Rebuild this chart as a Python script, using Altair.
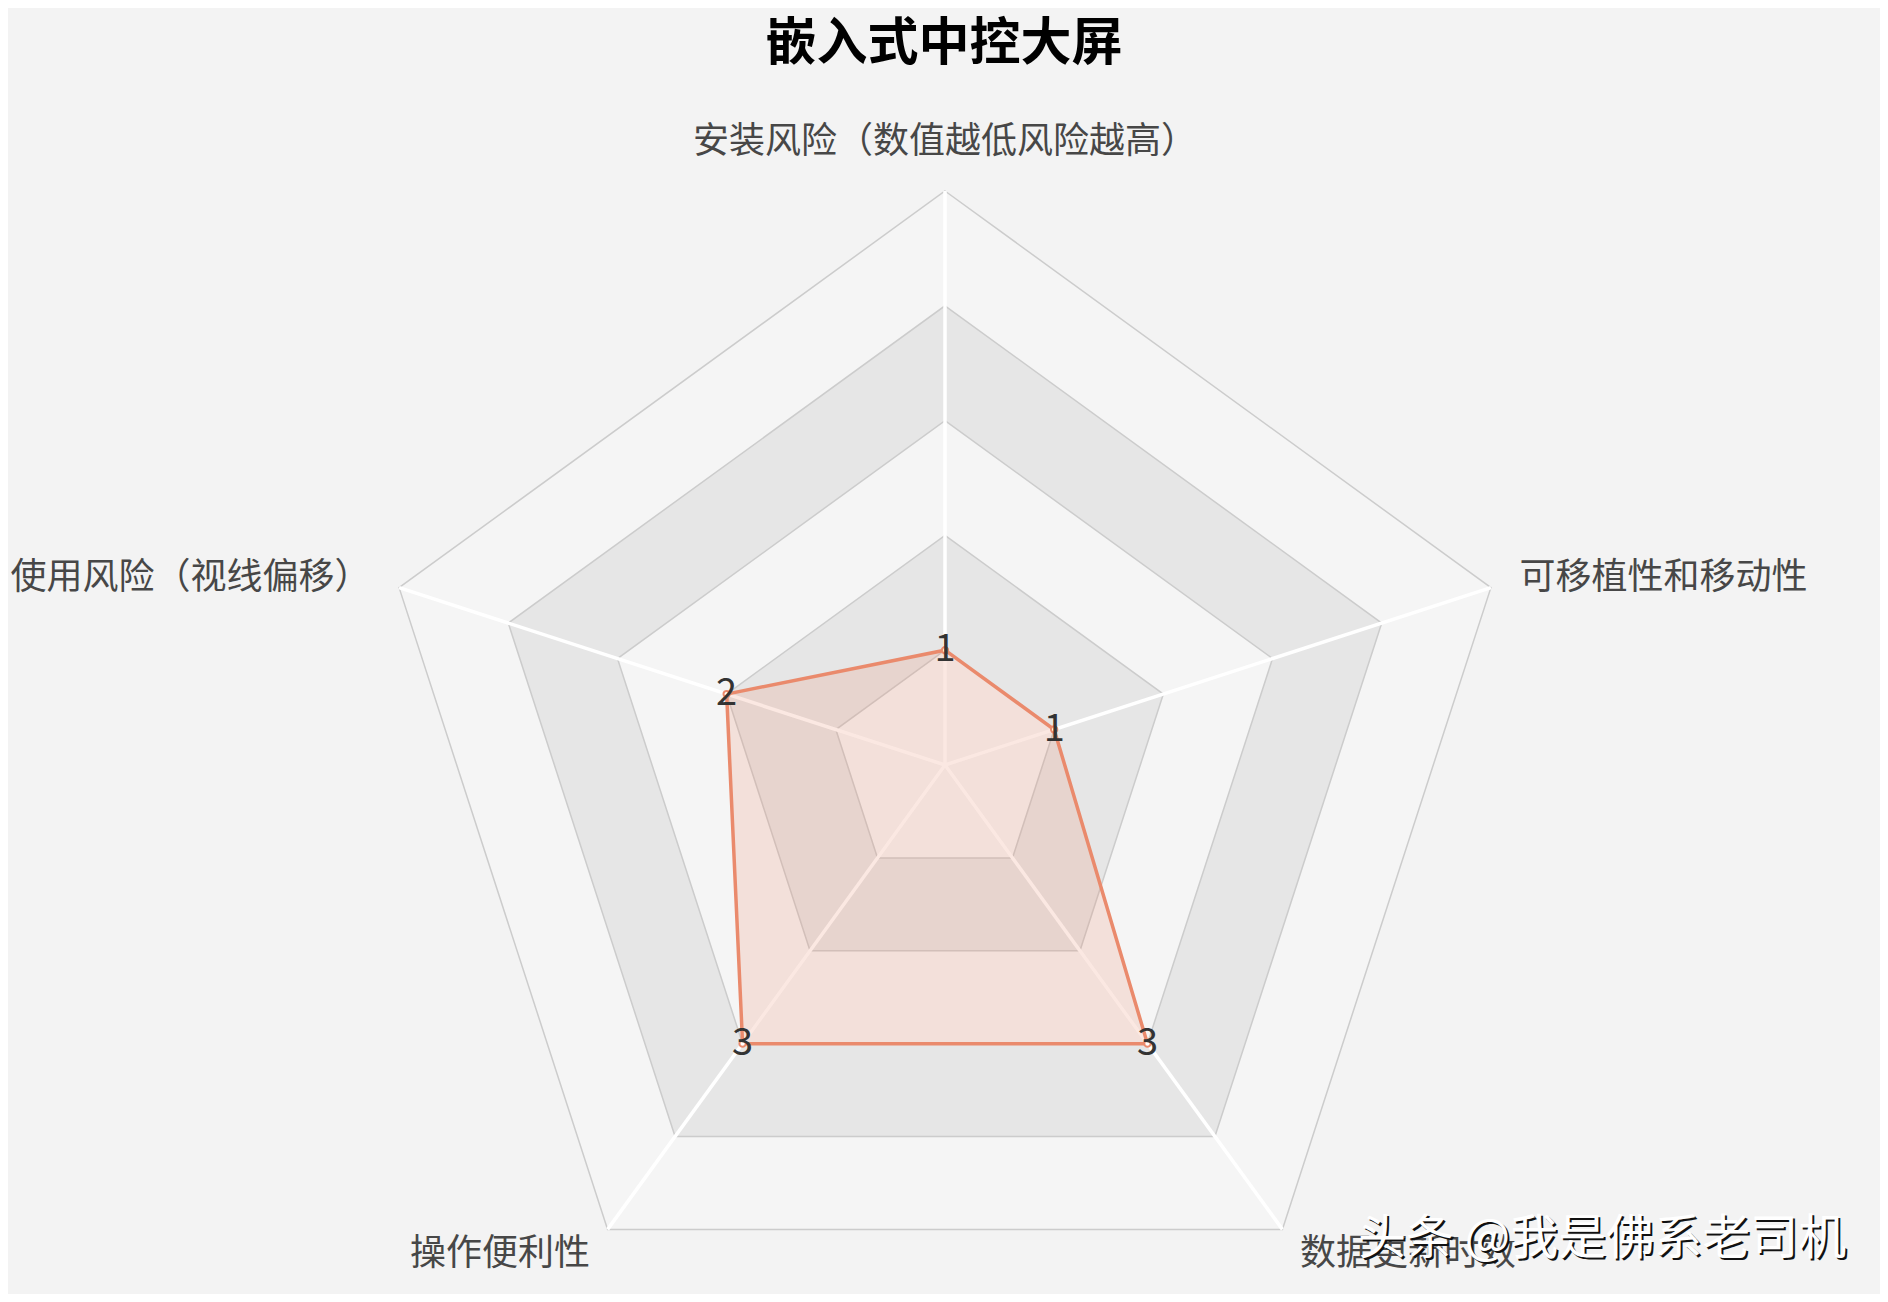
import math
import altair as alt
import pandas as pd

# ---- data ----
categories = ["安装风险（数值越低风险越高）", "可移植性和移动性", "数据更新时效", "操作便利性", "使用风险（视线偏移）"]
values = [1, 1, 3, 3, 2]
max_value = 5
ring_levels = [1, 2, 3, 4, 5]
title_text = "嵌入式中控大屏"
watermark_text = "头条 @我是佛系老司机"

# ---- geometry helpers (from data) ----
n = len(categories)
angles = [math.radians(90 - 360.0 * i / n) for i in range(n)]
unit_px = 114.8
label_gap = 30 / unit_px

ring_rows = []
for r in ring_levels:
    for i, a in enumerate(angles):
        ring_rows.append({"ring": r, "idx": i, "x": r * math.cos(a), "y": r * math.sin(a)})
rings = pd.DataFrame(ring_rows)

cat_rows = []
for i, (c, v, a) in enumerate(zip(categories, values, angles)):
    ca, sa = math.cos(a), math.sin(a)
    side = "top" if abs(ca) < 1e-3 else ("right" if ca > 0 else "left")
    cat_rows.append({
        "cat": c, "idx": i, "value": v,
        "x0": 0.0, "y0": 0.0,
        "vx": max_value * ca, "vy": max_value * sa,
        "px": v * ca, "py": v * sa,
        "lx": (max_value + label_gap) * ca, "ly": (max_value + label_gap) * sa,
        "side": side,
    })
cats = pd.DataFrame(cat_rows)

# ---- layout ----
W, H = 1872, 1206
PAD_TOP = 80
cx, cy = 937, 677
xs = alt.Scale(domain=[-cx / unit_px, (W - cx) / unit_px], nice=False, zero=False)
ys = alt.Scale(domain=[-(H - cy) / unit_px, cy / unit_px], nice=False, zero=False)

def X(f):
    return alt.X(f, type="quantitative", scale=xs, axis=None)

def Y(f):
    return alt.Y(f, type="quantitative", scale=ys, axis=None)

FONT = "Noto Sans CJK SC"
light, gray = "#f5f5f5", "#e6e6e6"

layers = []
# split areas (stacked filled pentagons, largest first)
for r in sorted(ring_levels, reverse=True):
    col = light if r % 2 == 1 else gray
    layers.append(
        alt.Chart(rings).transform_filter(alt.datum.ring == r)
        .mark_line(interpolate="linear-closed", fill=col, stroke=None, strokeWidth=0)
        .encode(x=X("x"), y=Y("y"), order=alt.Order("idx:Q"))
    )

# split lines
layers.append(
    alt.Chart(rings).mark_line(interpolate="linear-closed", color="#cccccc", strokeWidth=1.5)
    .encode(x=X("x"), y=Y("y"), detail="ring:N", order=alt.Order("idx:Q"))
)

# axis spokes
layers.append(
    alt.Chart(cats).mark_rule(color="#ffffff", strokeWidth=3.5)
    .encode(x=X("x0"), y=Y("y0"), x2="vx", y2="vy")
)

# data polygon
series_color = "#ea8a6c"
layers.append(
    alt.Chart(cats).mark_line(interpolate="linear-closed", stroke=series_color, strokeWidth=3.5,
                              fill=series_color, fillOpacity=0.2)
    .encode(x=X("px"), y=Y("py"), order=alt.Order("idx:Q"))
)

# points (empty circles)
layers.append(
    alt.Chart(cats).mark_point(shape="circle", size=40, filled=True, fill="#ffffff",
                               stroke=series_color, strokeWidth=2, opacity=1)
    .encode(x=X("px"), y=Y("py"))
)

# value labels
layers.append(
    alt.Chart(cats).mark_text(font=FONT, fontSize=38, color="#333333", align="center", baseline="middle")
    .encode(x=X("px"), y=Y("py"), text="value:Q")
)

# axis names
for side, al, bl in [("top", "center", "bottom"), ("right", "left", "middle"), ("left", "right", "middle")]:
    layers.append(
        alt.Chart(cats).transform_filter(alt.datum.side == side)
        .mark_text(font=FONT, fontSize=36, color="#474747", align=al, baseline=bl)
        .encode(x=X("lx"), y=Y("ly"), text="cat:N")
    )

# watermark (shadow + white)
wm = pd.DataFrame({"t": [watermark_text]})
layers.append(
    alt.Chart(wm).mark_text(font=FONT, fontSize=48, color="#111111", align="left", baseline="middle",
                            dx=2, dy=2)
    .encode(x=alt.value(1350), y=alt.value(1152), text="t:N")
)
layers.append(
    alt.Chart(wm).mark_text(font=FONT, fontSize=48, color="#ffffff", align="left", baseline="middle")
    .encode(x=alt.value(1350), y=alt.value(1152), text="t:N")
)

chart = alt.layer(*layers).properties(
    width=W, height=H,
    title=alt.TitleParams(title_text, font=FONT, fontSize=51, fontWeight="bold", color="#000000",
                          anchor="middle", offset=17),
    autosize=alt.AutoSizeParams(type="none"),
    padding={"top": PAD_TOP, "left": 0, "right": 0, "bottom": 0},
    background="#f3f3f3",
).configure_view(stroke=None)

chart.save("out.html", embed_options={"renderer": "svg", "actions": False})
